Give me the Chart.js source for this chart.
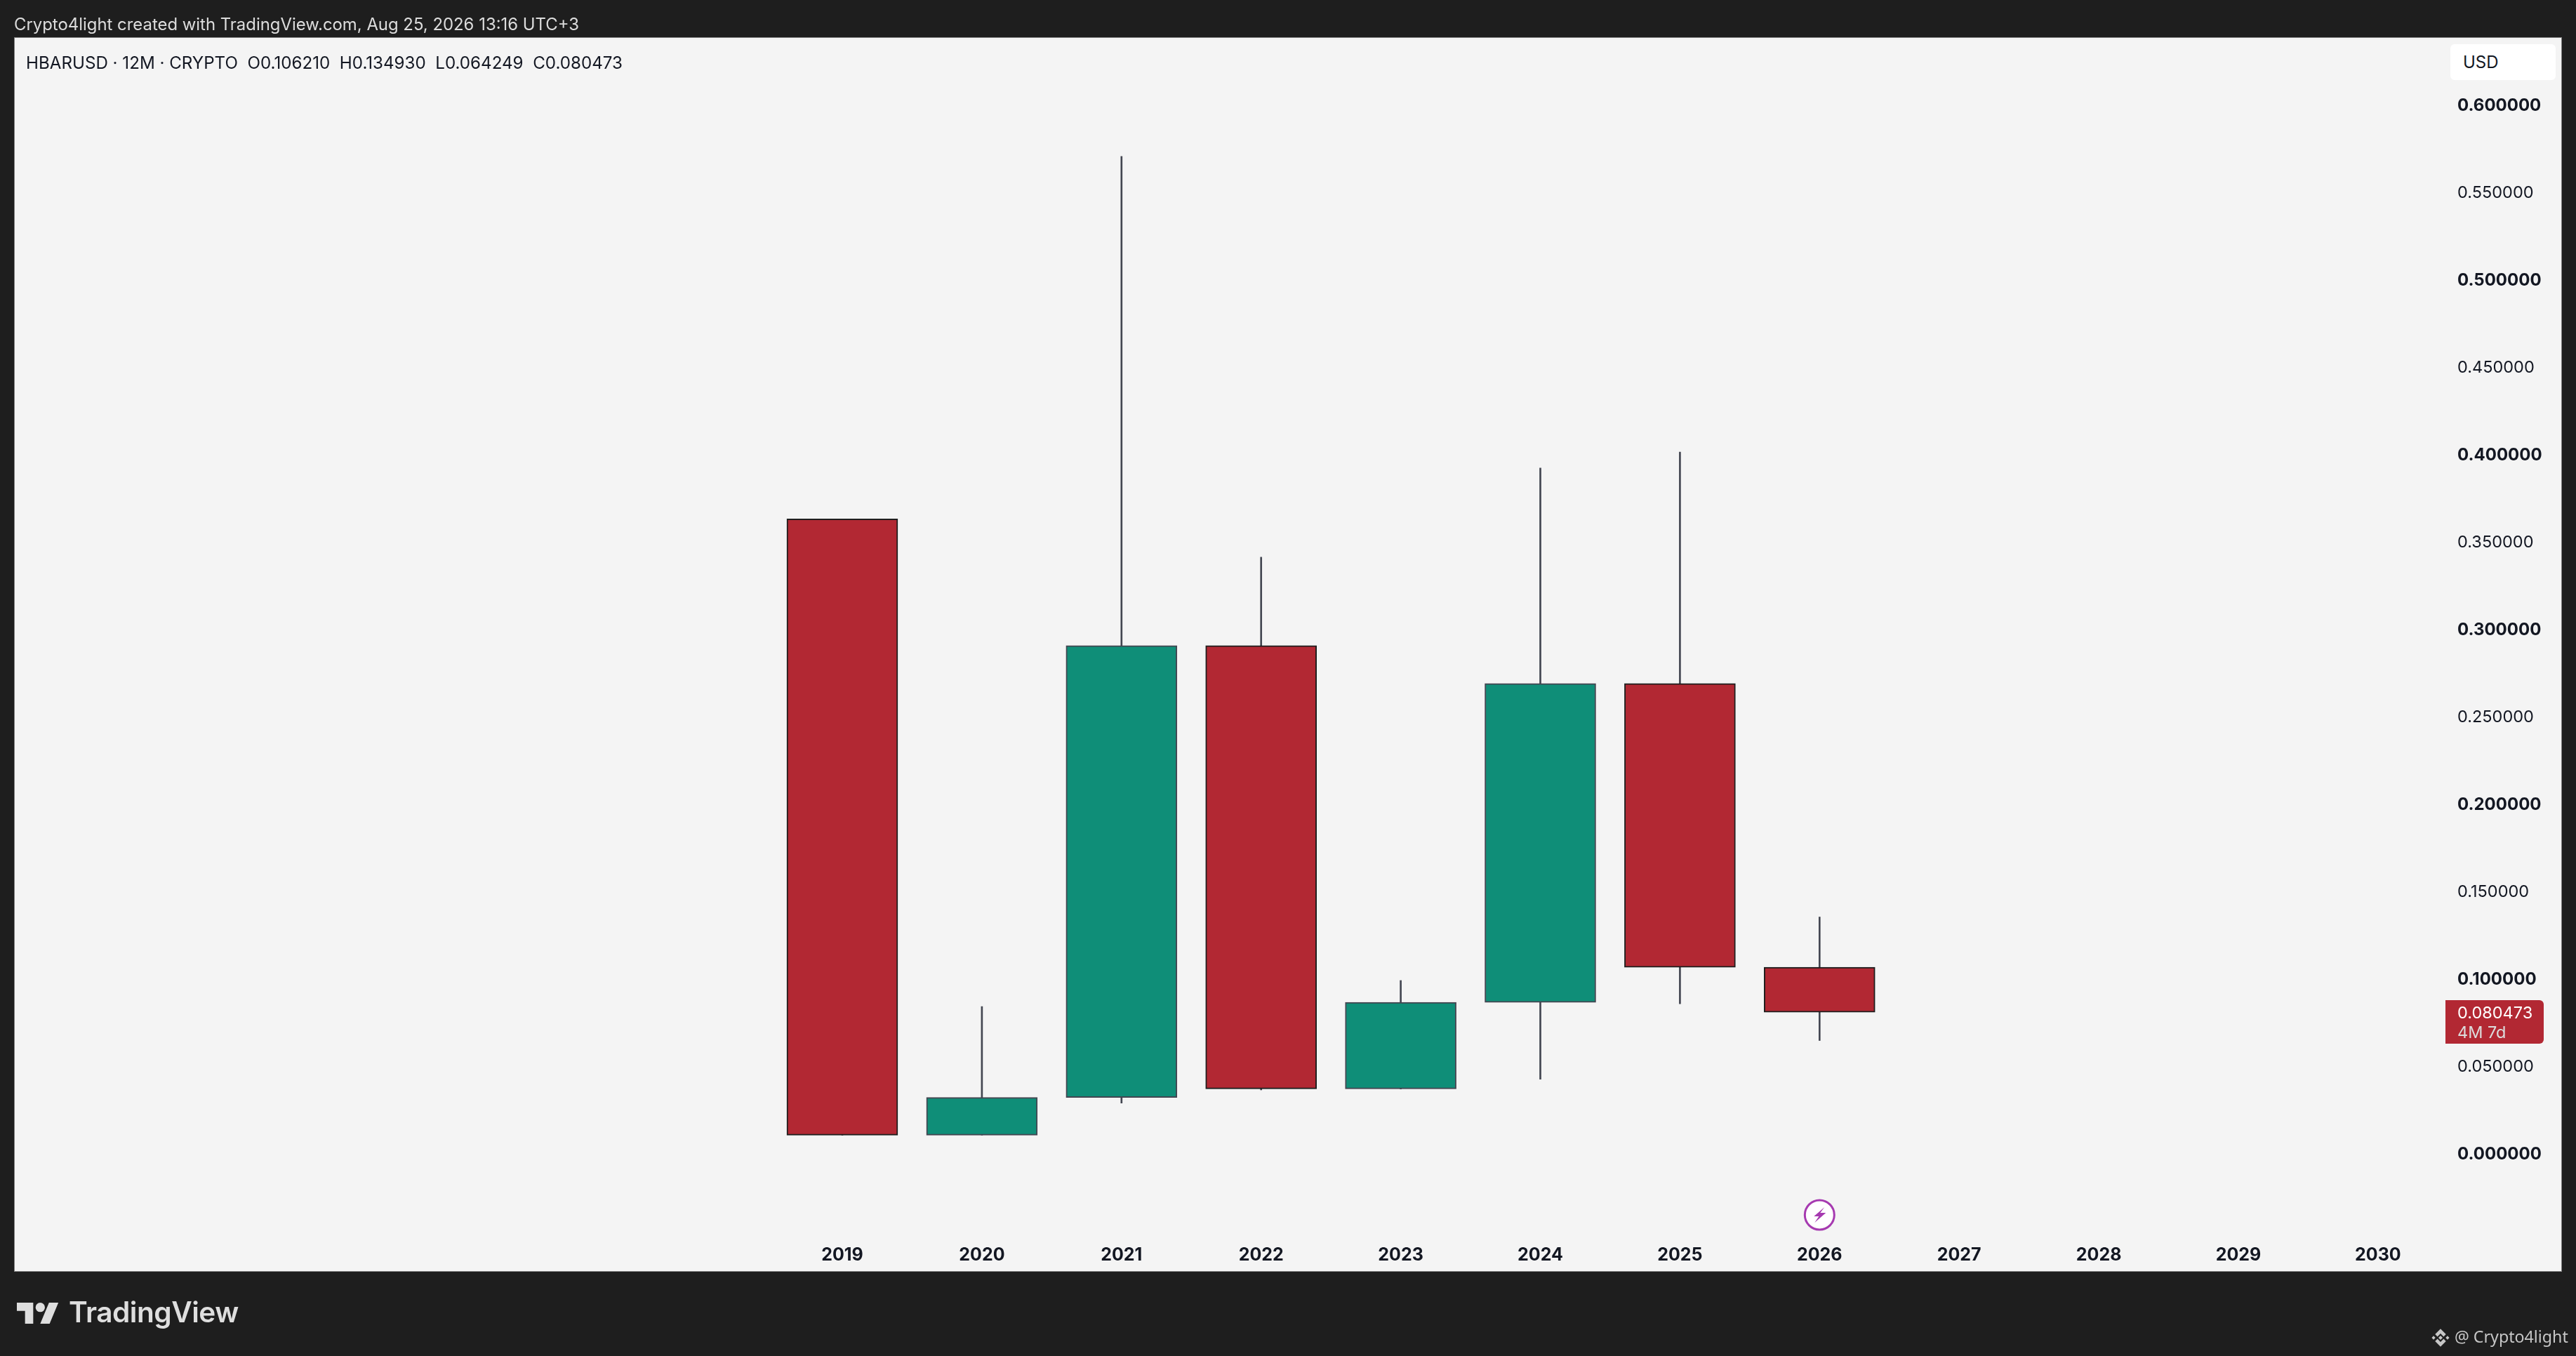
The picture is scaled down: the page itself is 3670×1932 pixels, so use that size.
<!DOCTYPE html>
<html>
<head>
<meta charset="utf-8">
<title>HBARUSD 12M</title>
<script src="https://cdn.jsdelivr.net/npm/chart.js@4"></script>
<style>
  html, body { margin: 0; padding: 0; width: 3670px; height: 1932px; overflow: hidden; background: #1e1e1e; }
  canvas { position: absolute; left: 0; top: 0; }
  .txt { position: absolute; white-space: pre; font-family: Inter, sans-serif; line-height: 1; }
  #credit { left: 20px; top: 23px; font-size: 23.9px; color: #dcdcdc; }
  #legend { left: 37px; top: 78px; font-size: 24.15px; color: #131722; }
  #unit { left: 3491px; top: 63px; width: 132px; height: 51px; padding-left: 18px; line-height: 51px; background: #fff; border-radius: 6px; font-size: 24px; color: #131722; }
  #brand { left: 98px; top: 1850px; font-size: 40.6px; font-weight: 600; color: #dedede; letter-spacing: -0.5px; }
  #handle { left: 3497px; top: 1893px; font-family: "Noto Sans", sans-serif; font-size: 23.2px; color: #c6c6c6; }
  svg { position: absolute; }
</style>
</head>
<body>
<canvas id="chart" width="3670" height="1932"></canvas>
<div class="txt" id="credit">Crypto4light created with TradingView.com, Aug 25, 2026 13:16 UTC+3</div>
<div class="txt" id="legend">HBARUSD · 12M · CRYPTO  O0.106210  H0.134930  L0.064249  C0.080473</div>
<div class="txt" id="unit">USD</div>
<svg style="left:24px;top:1856px" width="60" height="30" viewBox="0 4 36 18" fill="#dedede">
  <path d="M14 22H7V11H0V4h14v18zM28 22h-8l7.5-18h8L28 22z"/><circle cx="20" cy="8" r="4"/>
</svg>
<div class="txt" id="brand">TradingView</div>
<svg style="left:3463px;top:1892px" width="28" height="28" viewBox="0 0 24 24" fill="#c6c6c6">
  <path d="M12 9.4L14.6 12 12 14.6 9.4 12zM3.5 9.7L5.8 12 3.5 14.3 1.2 12zM20.5 9.7L22.8 12 20.5 14.3 18.2 12z"/>
  <path d="M6.8 9.2L12 4l5.2 5.2M6.8 14.8L12 20l5.2-5.2" fill="none" stroke="#c6c6c6" stroke-width="4"/>
</svg>
<div class="txt" id="handle">@ Crypto4light</div>

<script>
// ── Data ────────────────────────────────────────────────
const years  = [2019, 2020, 2021, 2022, 2023, 2024, 2025, 2026];
const opens  = [0.3627, 0.0101, 0.0317, 0.2902, 0.0366, 0.0861, 0.2685, 0.106210];
const highs  = [0.3627, 0.0837, 0.5701, 0.3408, 0.0986, 0.3918, 0.4010, 0.134930];
const lows   = [0.0101, 0.0101, 0.0284, 0.0360, 0.0365, 0.0421, 0.0853, 0.064249];
const closes = [0.0101, 0.0317, 0.2902, 0.0366, 0.0861, 0.2685, 0.1062, 0.080473];

const timeTicks  = [2019, 2020, 2021, 2022, 2023, 2024, 2025, 2026, 2027, 2028, 2029, 2030];
const priceTicks = [0, 0.05, 0.1, 0.15, 0.2, 0.25, 0.3, 0.35, 0.4, 0.45, 0.5, 0.55, 0.6];
const boldPrices = [0, 0.1, 0.2, 0.3, 0.4, 0.5, 0.6];

const lastLabel = "4M 7d";

const RED   = "#b22833";
const GREEN = "#0f8e78";
const WICK  = "#434651";
const FONT  = "Inter, sans-serif";

const up = i => closes[i] >= opens[i];

// ── Panel, countdown tag and event marker ───────────────
const panelPlugin = {
  id: "panel",
  beforeDraw(chart) {
    const ctx = chart.ctx;
    ctx.fillStyle = "#f4f4f4";
    ctx.fillRect(21, 54, 3628, 1757);
    ctx.strokeStyle = "#808080";
    ctx.lineWidth = 1;
    ctx.strokeRect(20.5, 53.5, 3629, 1758);
  },
  afterDraw(chart) {
    const ctx = chart.ctx;
    const last = closes.length - 1;
    const yTag = chart.scales.y.getPixelForValue(closes[last]);

    // price tag on the axis
    ctx.save();
    ctx.fillStyle = RED;
    ctx.beginPath();
    ctx.roundRect(3484, yTag - 17, 140, 62, [0, 6, 6, 0]);
    ctx.fill();
    ctx.textBaseline = "middle";
    ctx.textAlign = "left";
    ctx.font = "23.5px " + FONT;
    ctx.fillStyle = "#ffffff";
    ctx.fillText(closes[last].toFixed(6), 3501, yTag + 2);
    ctx.fillStyle = "#dcdcdc";
    ctx.fillText(lastLabel, 3501, yTag + 30);
    ctx.restore();

    // lightning marker above the current year
    const cx = chart.scales.x.getPixelForValue(years[last]);
    const cy = 1731;
    ctx.save();
    ctx.beginPath();
    ctx.arc(cx, cy, 21, 0, Math.PI * 2);
    ctx.fillStyle = "#ffffff";
    ctx.fill();
    ctx.lineWidth = 3;
    ctx.strokeStyle = "#a63ab0";
    ctx.stroke();
    ctx.translate(cx, cy);
    ctx.fillStyle = "#a63ab0";
    ctx.beginPath();
    ctx.moveTo(7, -11); ctx.lineTo(-8, 2); ctx.lineTo(-1, 2);
    ctx.lineTo(-7, 11); ctx.lineTo(9, -3); ctx.lineTo(1, -3);
    ctx.closePath();
    ctx.fill();
    ctx.restore();
  }
};

new Chart(document.getElementById("chart"), {
  type: "bar",
  data: {
    datasets: [
      {
        label: "Body",
        order: 1,
        grouped: false,
        barThickness: 158,
        data: years.map((y, i) => ({ x: y, y: [opens[i], closes[i]] })),
        backgroundColor: ctx => up(ctx.dataIndex) ? GREEN : RED,
        borderColor: ctx => up(ctx.dataIndex) ? WICK : "#1e1e1e",
        borderWidth: 2,
        borderSkipped: false
      },
      {
        label: "Wick",
        order: 2,
        grouped: false,
        barThickness: 2,
        data: years.map((y, i) => ({ x: y, y: [lows[i], highs[i]] })),
        backgroundColor: WICK,
        borderWidth: 0
      }
    ]
  },
  options: {
    responsive: false,
    animation: false,
    devicePixelRatio: 1,
    layout: { padding: { left: 21, top: 54, right: 21, bottom: 121 } },
    plugins: { legend: { display: false }, tooltip: { enabled: false } },
    scales: {
      x: {
        type: "linear",
        offset: false,
        min: 2019 - 1179 / 198.9,
        max: 2019 + 2290 / 198.9,
        grid: { display: false, drawTicks: false, offset: false },
        border: { display: false },
        afterBuildTicks: axis => { axis.ticks = timeTicks.map(v => ({ value: v })); },
        afterFit: axis => { axis.height = 71; },
        ticks: {
          autoSkip: false,
          maxRotation: 0,
          padding: 33,
          color: "#131722",
          font: { family: FONT, size: 25, weight: "700" },
          callback: v => String(v)
        }
      },
      y: {
        position: "right",
        min: -0.03916,
        max: 0.63795,
        grid: { display: false, drawTicks: false },
        border: { display: false },
        afterBuildTicks: axis => { axis.ticks = priceTicks.map(v => ({ value: v })); },
        afterFit: axis => { axis.width = 159; },
        ticks: {
          autoSkip: false,
          padding: 11,
          labelOffset: 2,
          color: "#131722",
          font: ctx => {
            const bold = boldPrices.includes(ctx.tick && ctx.tick.value);
            return { family: FONT, size: bold ? 24 : 23.5, weight: bold ? "700" : "400" };
          },
          callback: v => v.toFixed(6)
        }
      }
    }
  },
  plugins: [panelPlugin]
});
</script>
</body>
</html>
